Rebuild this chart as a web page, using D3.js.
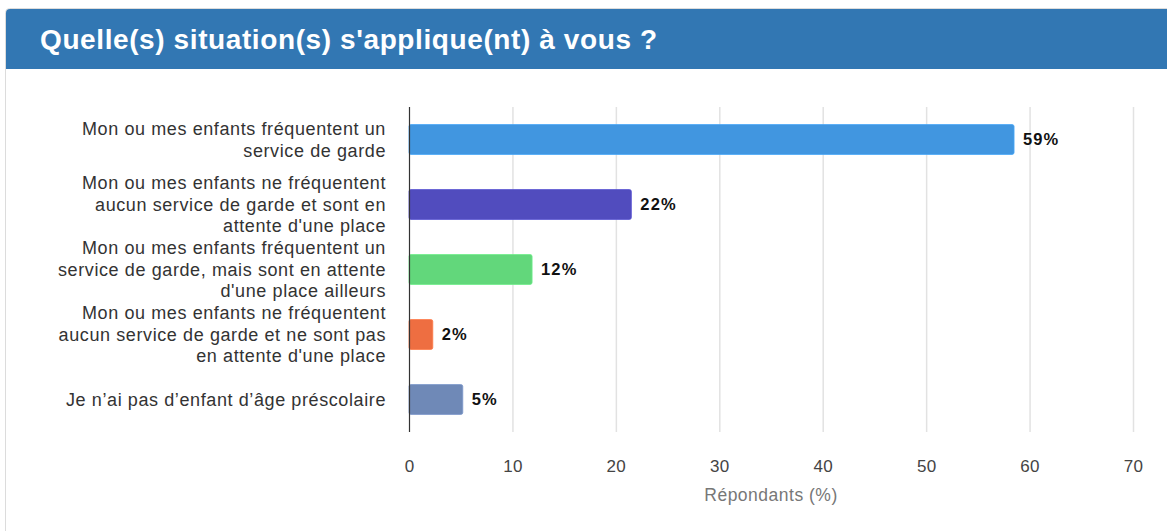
<!DOCTYPE html>
<html>
<head>
<meta charset="utf-8">
<script src="https://cdn.jsdelivr.net/npm/d3@7"></script>
<style>
  body { margin: 0; background: #fff; }
  svg { display: block; font-family: "Liberation Sans", Arial, sans-serif; }
</style>
</head>
<body>
<div id="chart"></div>
<script>
// ----------------------------------
// DATA
// ----------------------------------
const title = "Quelle(s) situation(s) s'applique(nt) à vous ?";

// each category is kept with its line breaks, as in the picture
const categories = [
	["Mon ou mes enfants fréquentent un", "service de garde"],
	["Mon ou mes enfants ne fréquentent", "aucun service de garde et sont en", "attente d'une place"],
	["Mon ou mes enfants fréquentent un", "service de garde, mais sont en attente", "d'une place ailleurs"],
	["Mon ou mes enfants ne fréquentent", "aucun service de garde et ne sont pas", "en attente d'une place"],
	["Je n\u2019ai pas d\u2019enfant d\u2019âge préscolaire"]
];
const values = [58.5, 21.5, 11.9, 2.3, 5.2];
const valueLabels = ["59%", "22%", "12%", "2%", "5%"];
const barColors = ["#4196e0", "#514cbe", "#62d77b", "#ee6e41", "#6f89b7"];
const xTicks = [0, 10, 20, 30, 40, 50, 60, 70];
const xTitle = "Répondants (%)";

// ----------------------------------
// SIZES
// ----------------------------------
const width = 1167,
	height = 531,
	margin = {top: 107, left: 409, right: 34, bottom: 99},
	innerWidth = width - margin.left - margin.right,
	innerHeight = height - margin.top - margin.bottom;

const svg = d3.select('#chart')
	.append('svg')
	.attr('width', width)
	.attr('height', height);

// panel + header
svg.append('rect')
	.attr('x', 5.5).attr('y', 8.5)
	.attr('width', 1180).attr('height', 560)
	.attr('rx', 4)
	.attr('fill', '#fff')
	.attr('stroke', '#dcdcdc');

svg.append('path')
	.attr('d', 'M6,69 V13 Q6,9 10,9 H1167 V69 Z')
	.attr('fill', '#3277b3');

svg.append('text')
	.attr('x', 40).attr('y', 49)
	.attr('fill', '#fff')
	.attr('font-size', 28)
	.attr('font-weight', 'bold')
	.attr('letter-spacing', 0.6)
	.text(title);

// ----------------------------------
// SCALES
// ----------------------------------
const idx = categories.map((d, i) => i);

const xScale = d3.scaleLinear()
	.domain([0, 70])
	.range([0, innerWidth]);

const yScale = d3.scaleBand()
	.domain(idx)
	.range([0, innerHeight])
	.paddingInner(0.54)
	.paddingOuter(0.27);

const chartInner = svg.append('g')
	.attr('transform', `translate(${margin.left}, ${margin.top})`);

// grid
chartInner.append('g')
	.selectAll('line')
	.data(xTicks.slice(1))
	.enter()
	.append('line')
	.attr('x1', d => xScale(d) + 0.5)
	.attr('x2', d => xScale(d) + 0.5)
	.attr('y1', 0)
	.attr('y2', innerHeight)
	.attr('stroke', '#e2e2e2')
	.attr('stroke-width', 1.5);

// x axis (ticks only, no domain line)
const xAxis = chartInner.append('g')
	.attr('transform', `translate(0, ${innerHeight})`)
	.call(d3.axisBottom(xScale).tickValues(xTicks).tickSize(0).tickPadding(28));
xAxis.select('.domain').remove();
xAxis.selectAll('text')
	.attr('font-family', '"Liberation Sans", Arial, sans-serif')
	.attr('font-size', 17)
	.attr('letter-spacing', 0.3)
	.attr('fill', '#444');

// axis title
chartInner.append('text')
	.attr('x', innerWidth / 2)
	.attr('y', innerHeight + 69)
	.attr('text-anchor', 'middle')
	.attr('font-size', 17.5)
	.attr('letter-spacing', 0.5)
	.attr('fill', '#777')
	.text(xTitle);

// bars
chartInner.append('g')
	.selectAll('rect')
	.data(idx)
	.enter()
	.append('rect')
	.attr('x', 0)
	.attr('y', i => yScale(i))
	.attr('width', i => xScale(values[i]))
	.attr('height', yScale.bandwidth())
	.attr('rx', 2)
	.attr('fill', i => barColors[i])
	.attr('stroke', i => d3.color(barColors[i]).brighter(0.3))
	.attr('stroke-width', 0.8);

// value labels
chartInner.append('g')
	.selectAll('text')
	.data(idx)
	.enter()
	.append('text')
	.attr('x', i => xScale(values[i]) + 9)
	.attr('y', i => yScale(i) + yScale.bandwidth() / 2)
	.attr('dy', '0.36em')
	.attr('font-size', 16.5)
	.attr('font-weight', 'bold')
	.attr('letter-spacing', 1.1)
	.attr('fill', '#111')
	.text(i => valueLabels[i]);

// left axis line
chartInner.append('line')
	.attr('x1', 0.5).attr('x2', 0.5)
	.attr('y1', 0).attr('y2', innerHeight)
	.attr('stroke', '#333')
	.attr('stroke-width', 1.2);

// category labels
const lineH = 21.5;
chartInner.append('g')
	.selectAll('text')
	.data(idx)
	.enter()
	.append('text')
	.attr('text-anchor', 'end')
	.attr('font-size', 18)
	.attr('letter-spacing', 0.6)
	.attr('fill', '#333')
	.each(function(i) {
		const lines = categories[i];
		const cy = yScale(i) + yScale.bandwidth() / 2;
		const y0 = cy - (lines.length - 1) * lineH / 2;
		d3.select(this).selectAll('tspan')
			.data(lines)
			.enter()
			.append('tspan')
			.attr('x', -23)
			.attr('y', (l, k) => y0 + k * lineH)
			.attr('dy', '0.35em')
			.text(l => l);
	});
</script>
</body>
</html>
